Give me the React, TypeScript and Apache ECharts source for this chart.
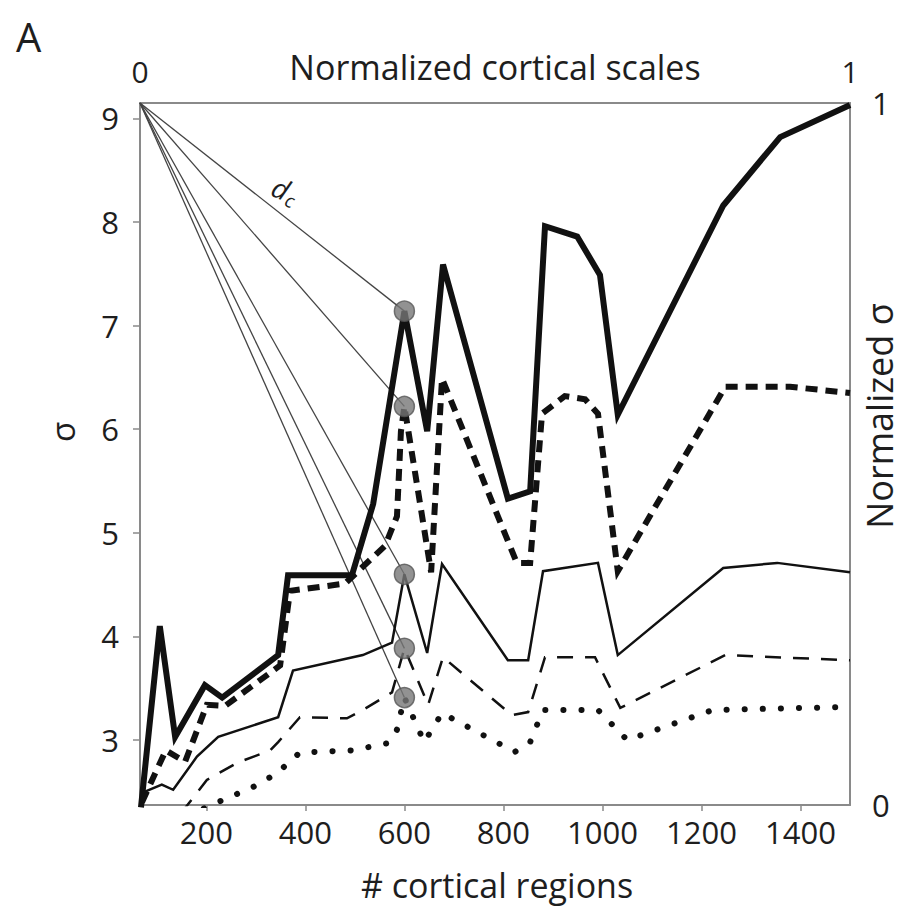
import React, { useEffect, useRef } from "react";
import * as echarts from "echarts";

// ---- data ----
const xTicks = [200, 400, 600, 800, 1000, 1200, 1400];
const yTicks = [3, 4, 5, 6, 7, 8, 9];
const topTicks = [0, 1];
const rightTicks = [0, 1];
const xMin = 66;
const xMax = 1500;
const yMin = 2.373;
const yMax = 9.149;

const thickSolid: number[][] = [
  [68, 2.35], [106, 4.1], [137, 3.03], [197, 3.53], [232, 3.41], [345, 3.82], [365, 4.59],
  [494, 4.59], [537, 5.28], [600, 7.14], [646, 5.98], [678, 7.59], [809, 5.33], [854, 5.4],
  [884, 7.96], [949, 7.86], [995, 7.49], [1031, 6.14], [1244, 8.16], [1359, 8.82], [1500, 9.13],
];
const thickDashed: number[][] = [
  [70, 2.4], [118, 2.9], [157, 2.79], [201, 3.34], [238, 3.33], [349, 3.72], [369, 4.44],
  [480, 4.51], [561, 4.875], [585, 5.16], [593, 5.98], [600, 6.22], [654, 4.62], [676, 6.49],
  [827, 4.71], [854, 4.71], [878, 6.15], [924, 6.32], [965, 6.29], [991, 6.15], [1031, 4.63],
  [1248, 6.41], [1379, 6.41], [1500, 6.35],
];
const thinSolid: number[][] = [
  [70, 2.49], [110, 2.57], [133, 2.52], [181, 2.84], [224, 3.03], [345, 3.22], [375, 3.67],
  [516, 3.82], [575, 3.94], [600, 4.6], [646, 3.84], [676, 4.7], [809, 3.77], [850, 3.77],
  [880, 4.63], [991, 4.71], [1031, 3.82], [1244, 4.66], [1353, 4.71], [1500, 4.62],
];
const thinDashed: number[][] = [
  [150, 2.3], [201, 2.615], [262, 2.78], [329, 2.9], [345, 2.98], [389, 3.22], [484, 3.21],
  [516, 3.29], [575, 3.46], [600, 3.885], [648, 3.34], [678, 3.8], [817, 3.24], [850, 3.27],
  [884, 3.8], [985, 3.8], [1036, 3.31], [1248, 3.82], [1500, 3.77],
];
const dotted: number[][] = [
  [195, 2.34], [242, 2.44], [292, 2.54], [343, 2.68], [389, 2.88], [494, 2.9], [567, 2.97],
  [585, 3.1], [600, 3.41], [640, 2.98], [676, 3.26], [823, 2.885], [854, 2.98], [880, 3.29],
  [991, 3.29], [1050, 3.0], [1223, 3.29], [1500, 3.32],
];
const markerX = 600;
const markerY = [7.14, 6.22, 4.6, 3.885, 3.41];
const fanOrigin = [xMin, yMax];

const FONT = "'Open Sans', 'Noto Sans', sans-serif";
const TEXT = "#1e1e1e";
const AXIS = "#8a8a8a";
const INK = "#111";

export default function App() {
  const ref = useRef<HTMLDivElement>(null);

  useEffect(() => {
    document.body.style.margin = "0";
    const chart = echarts.init(ref.current!, undefined, { renderer: "svg" });
    const lineSeries = (data: number[][], width: number, type: any, cap = "butt", z = 3) => ({
      type: "line",
      data,
      xAxisIndex: 0,
      yAxisIndex: 0,
      symbol: "none",
      silent: true,
      z,
      lineStyle: { color: INK, width, type, cap, join: "miter" },
    });
    const fans = markerY.map((y) => ({
      type: "line",
      data: [fanOrigin, [markerX, y]],
      xAxisIndex: 0,
      yAxisIndex: 0,
      symbol: "none",
      silent: true,
      z: 2,
      lineStyle: { color: "#444", width: 1.3 },
    }));
    const plain = (v: number) => String(v);
    const option: any = {
      animation: false,
      grid: { left: 140, right: 62, top: 103, bottom: 116, containLabel: false },
      xAxis: [
        {
          type: "value",
          position: "bottom",
          min: xMin,
          max: xMax,
          axisLine: { show: true, onZero: false, lineStyle: { color: AXIS, width: 2 } },
          axisTick: { show: true, customValues: xTicks, length: 6, lineStyle: { color: AXIS, width: 1.5 } },
          axisLabel: { customValues: xTicks, formatter: plain, fontSize: 31, color: TEXT, fontFamily: FONT, margin: 11 },
          splitLine: { show: false },
        },
        {
          type: "value",
          position: "top",
          min: 0,
          max: 1,
          axisLine: { show: true, onZero: false, lineStyle: { color: AXIS, width: 2 } },
          axisTick: { show: false },
          axisLabel: { customValues: topTicks, formatter: plain, fontSize: 30, color: TEXT, fontFamily: FONT, margin: 17 },
          splitLine: { show: false },
        },
      ],
      yAxis: [
        {
          type: "value",
          position: "left",
          min: yMin,
          max: yMax,
          axisLine: { show: true, onZero: false, lineStyle: { color: AXIS, width: 2 } },
          axisTick: { show: true, customValues: yTicks, length: 7, lineStyle: { color: AXIS, width: 1.5 } },
          axisLabel: { customValues: yTicks, formatter: plain, fontSize: 31, color: TEXT, fontFamily: FONT, margin: 21 },
          splitLine: { show: false },
        },
        {
          type: "value",
          position: "right",
          min: 0,
          max: 1,
          axisLine: { show: true, onZero: false, lineStyle: { color: AXIS, width: 2 } },
          axisTick: { show: false },
          axisLabel: { customValues: rightTicks, formatter: plain, fontSize: 31, color: TEXT, fontFamily: FONT, margin: 22 },
          splitLine: { show: false },
        },
      ],
      graphic: [
        { type: "text", left: 16, top: 16, style: { text: "A", fontSize: 40, fill: TEXT, fontFamily: FONT } },
        {
          type: "text", x: 495, y: 67,
          style: { text: "Normalized cortical scales", fontSize: 34, fill: TEXT, fontFamily: FONT, textAlign: "center", textVerticalAlign: "middle" },
        },
        {
          type: "text", x: 497, y: 885,
          style: { text: "# cortical regions", fontSize: 34, fill: TEXT, fontFamily: FONT, textAlign: "center", textVerticalAlign: "middle" },
        },
        {
          type: "text", x: 62, y: 432, rotation: Math.PI / 2,
          style: { text: "σ", fontSize: 33, fill: TEXT, fontFamily: FONT, textAlign: "center", textVerticalAlign: "middle" },
        },
        {
          type: "text", x: 879, y: 416, rotation: Math.PI / 2,
          style: { text: "Normalized σ", fontSize: 36, fill: TEXT, fontFamily: FONT, textAlign: "center", textVerticalAlign: "middle" },
        },
        {
          type: "group", x: 281, y: 188, rotation: -0.4,
          children: [
            { type: "text", x: 0, y: 0, style: { text: "d", fontSize: 28, fontStyle: "italic", fill: TEXT, fontFamily: FONT, textAlign: "center", textVerticalAlign: "middle" } },
            { type: "text", x: 13, y: 8, style: { text: "c", fontSize: 19, fontStyle: "italic", fill: TEXT, fontFamily: FONT, textAlign: "center", textVerticalAlign: "middle" } },
          ],
        },
      ],
      series: [
        ...fans,
        lineSeries(thickSolid, 6, "solid"),
        lineSeries(thickDashed, 6, [12, 8]),
        lineSeries(thinSolid, 2.5, "solid"),
        lineSeries(thinDashed, 2.5, [16, 12]),
        lineSeries(dotted, 6, [0.1, 18], "round"),
        {
          type: "scatter",
          data: markerY.map((y) => [markerX, y]),
          xAxisIndex: 0,
          yAxisIndex: 0,
          symbol: "circle",
          symbolSize: 20,
          silent: true,
          z: 5,
          itemStyle: { color: "#777", borderColor: "#555", borderWidth: 1.5 },
        },
      ],
    };
    chart.setOption(option);
    return () => chart.dispose();
  }, []);

  return <div ref={ref} style={{ width: 912, height: 921 }} />;
}
